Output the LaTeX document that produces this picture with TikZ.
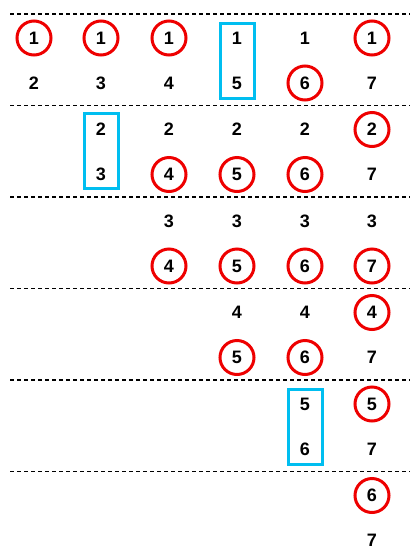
\documentclass[tikz,border=0pt]{standalone}
\usepackage{fontspec}
\setmainfont{Liberation Sans}
\usepackage{xcolor}
\usepackage{tikz}
\usetikzlibrary{calc}
\definecolor{pickred}{RGB}{238,0,0}
\definecolor{pairblue}{RGB}{0,190,240}
\tikzset{
  num/.style     = {inner sep=0pt, font=\fontsize{18}{20}\selectfont\bfseries},
  picked/.style  = {num, circle, draw=pickred, line width=3pt, minimum size=34pt},
  pairbox/.style = {rectangle, draw=pairblue, line width=3pt, minimum width=34pt,
                    minimum height=75pt, inner sep=0pt},
  sepline/.style = {draw=black, line width=1.2pt, dash pattern=on 4pt off 3pt},
}

\begin{document}
\begin{tikzpicture}[x=1pt,y=-1pt]
  \useasboundingbox (0,0) rectangle (410,558);

  % round 1
  \draw[sepline] (10,14) -- (410,14);
  \node[picked] (b1t1) at (34,38)  {1};
  \node[picked] (b1t2) at (101,38) {1};
  \node[picked] (b1t3) at (169,38) {1};
  \node[num]    (b1t4) at (237,38) {1};
  \node[num]    (b1t5) at (305,38) {1};
  \node[picked] (b1t6) at (372,38) {1};
  \node[num]    (b1b1) at (34,83)  {2};
  \node[num]    (b1b2) at (101,83) {3};
  \node[num]    (b1b3) at (169,83) {4};
  \node[num]    (b1b4) at (237,83) {5};
  \node[picked] (b1b5) at (305,83) {6};
  \node[num]    (b1b6) at (372,83) {7};
  \node[pairbox] (box1) at ($(b1t4)!0.5!(b1b4)$) {};

  % round 2
  \draw[sepline] (10,105.5) -- (410,105.5);
  \node[num]    (b2t2) at (101,129.5) {2};
  \node[num]    (b2t3) at (169,129.5) {2};
  \node[num]    (b2t4) at (237,129.5) {2};
  \node[num]    (b2t5) at (305,129.5) {2};
  \node[picked] (b2t6) at (372,129.5) {2};
  \node[num]    (b2b2) at (101,174.5) {3};
  \node[picked] (b2b3) at (169,174.5) {4};
  \node[picked] (b2b4) at (237,174.5) {5};
  \node[picked] (b2b5) at (305,174.5) {6};
  \node[num]    (b2b6) at (372,174.5) {7};
  \node[pairbox] (box2) at ($(b2t2)!0.5!(b2b2)+(0,-1)$) {};

  % round 3
  \draw[sepline] (10,197) -- (410,197);
  \node[num]    (b3t3) at (169,221) {3};
  \node[num]    (b3t4) at (237,221) {3};
  \node[num]    (b3t5) at (305,221) {3};
  \node[num]    (b3t6) at (372,221) {3};
  \node[picked] (b3b3) at (169,266) {4};
  \node[picked] (b3b4) at (237,266) {5};
  \node[picked] (b3b5) at (305,266) {6};
  \node[picked] (b3b6) at (372,266) {7};

  % round 4
  \draw[sepline] (10,288.5) -- (410,288.5);
  \node[num]    (b4t4) at (237,312.5) {4};
  \node[num]    (b4t5) at (305,312.5) {4};
  \node[picked] (b4t6) at (372,312.5) {4};
  \node[picked] (b4b4) at (237,357.5) {5};
  \node[picked] (b4b5) at (305,357.5) {6};
  \node[num]    (b4b6) at (372,357.5) {7};

  % round 5
  \draw[sepline] (10,380) -- (410,380);
  \node[num]    (b5t5) at (305,404) {5};
  \node[picked] (b5t6) at (372,404) {5};
  \node[num]    (b5b5) at (305,449) {6};
  \node[num]    (b5b6) at (372,449) {7};
  \node[pairbox] (box3) at ($(b5t5)!0.5!(b5b5)$) {};

  % round 6
  \draw[sepline] (10,471.5) -- (410,471.5);
  \node[picked] (b6t6) at (372,495.5) {6};
  \node[num]    (b6b6) at (372,540.5) {7};
\end{tikzpicture}
\end{document}
